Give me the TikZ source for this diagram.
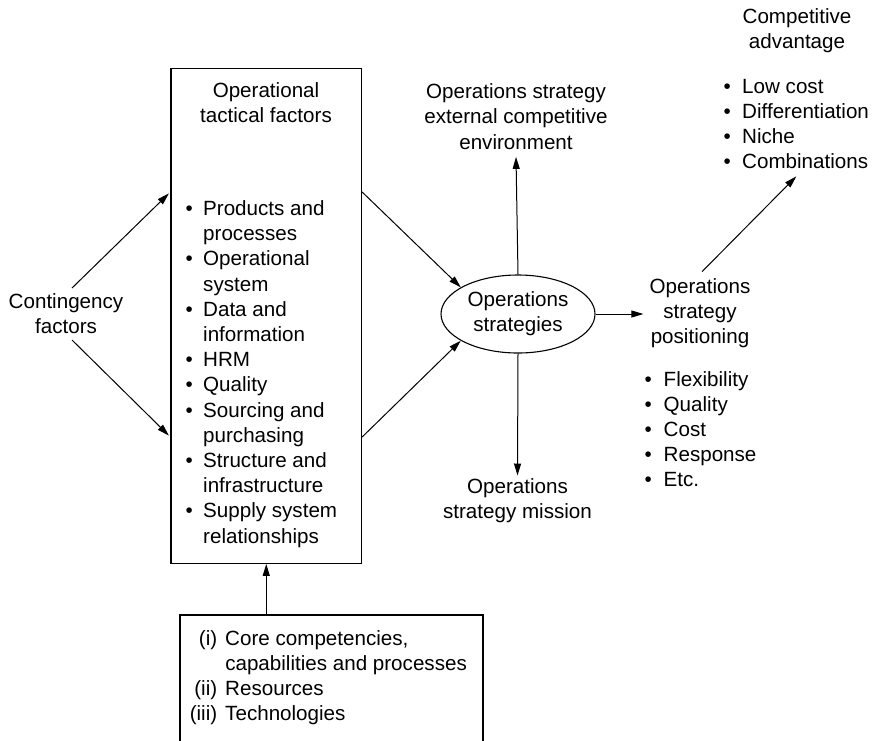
\documentclass[tikz,border=0pt]{standalone}
\usepackage{fontspec}
\setmainfont{Liberation Sans}
\usetikzlibrary{shapes.geometric,arrows.meta,calc}

\begin{document}
\begin{tikzpicture}[x=1pt,y=-1pt,
  every node/.style={inner sep=0pt, font=\fontsize{20.6}{25.2}\selectfont},
  frame/.style={draw, line width=1.3pt},
  link/.style={line width=1pt, -{Triangle[length=12pt,width=7pt]}},
]
\useasboundingbox (0,0) rectangle (875,740);

% left: contingency factors
\node (cont) [anchor=north] at (66,290.9)
  {\begin{tabular}{@{}c@{}}Contingency\\factors\end{tabular}};

% tactical factors box
\node (tac) [frame, minimum width=190.5pt, minimum height=494.8pt] at (266.25,315.9) {};
\node (tactitle) [anchor=north] at (266,79.4)
  {\begin{tabular}{@{}c@{}}Operational\\tactical factors\end{tabular}};
\node (taclist) [anchor=north west] at (185.4,197.7)
  {\begin{tabular}{@{}l@{\hspace{10.4pt}}l@{}}
   \textbullet & Products and\\ & processes\\
   \textbullet & Operational\\ & system\\
   \textbullet & Data and\\ & information\\
   \textbullet & HRM\\
   \textbullet & Quality\\
   \textbullet & Sourcing and\\ & purchasing\\
   \textbullet & Structure and\\ & infrastructure\\
   \textbullet & Supply system\\ & relationships
  \end{tabular}};

% central ellipse
\node (ops) [ellipse, draw, line width=1.1pt, minimum width=154pt, minimum height=78pt] at (518,314)
  {\begin{tabular}{@{}c@{}}Operations\\strategies\end{tabular}};

\node (ext) [anchor=north] at (516,80.9)
  {\begin{tabular}{@{}c@{}}Operations strategy\\external competitive\\environment\end{tabular}};

\node (mis) [anchor=north] at (517.5,475.5)
  {\begin{tabular}{@{}c@{}}Operations\\strategy mission\end{tabular}};

% positioning
\node (pos) [anchor=north] at (700,275.7)
  {\begin{tabular}{@{}c@{}}Operations\\strategy\\positioning\end{tabular}};
\node (posl) [anchor=north west] at (644.5,368.2)
  {\begin{tabular}{@{}l@{\hspace{11.8pt}}l@{}}
   \textbullet & Flexibility\\
   \textbullet & Quality\\
   \textbullet & Cost\\
   \textbullet & Response\\
   \textbullet & Etc.
  \end{tabular}};

% competitive advantage
\node (adv) [anchor=north] at (797,5.9)
  {\begin{tabular}{@{}c@{}}Competitive\\advantage\end{tabular}};
\node (advl) [anchor=north west] at (723.4,75.2)
  {\begin{tabular}{@{}l@{\hspace{11.4pt}}l@{}}
   \textbullet & Low cost\\
   \textbullet & Differentiation\\
   \textbullet & Niche\\
   \textbullet & Combinations
  \end{tabular}};

% resources box (open at the bottom edge)
\node (core) [anchor=north west] at (189.6,627.4)
  {\begin{tabular}{@{}r@{\hspace{8pt}}l@{}}
   (i) & Core competencies,\\
       & capabilities and processes\\
   (ii) & Resources\\
   (iii) & Technologies
  \end{tabular}};
\coordinate (coreL) at (180,742);
\coordinate (coreT) at (483,615);
\coordinate (coreR) at (483,742);
\draw[frame] (coreL) |- (coreT) -- (coreR);

% connectors
\coordinate (cU) at (72,288);
\coordinate (cD) at (72,340);
\coordinate (tUin) at (tac.west |- 0,192);
\coordinate (tDin) at (tac.west |- 0,437);
\coordinate (tUout) at (tac.east |- 0,192);
\coordinate (tDout) at (tac.east |- 0,437);
\draw[link, shorten >=2pt] (cU) -- (tUin);
\draw[link, shorten >=2pt] (cD) -- (tDin);
\draw[link] (tUout) -- (ops.155);
\draw[link] (tDout) -- (ops.205);
\draw[link] (ops.north) -- (ext.south);
\draw[link] (ops.south) -- (mis.north);
\draw[link, shorten >=6pt] (ops.east) -- (pos.west |- ops.east);
\draw[link] (pos.north) ++(2,-4) -- (advl.south);
\draw[link] (tac.south |- coreT) -- (tac.south);
\end{tikzpicture}
\end{document}
